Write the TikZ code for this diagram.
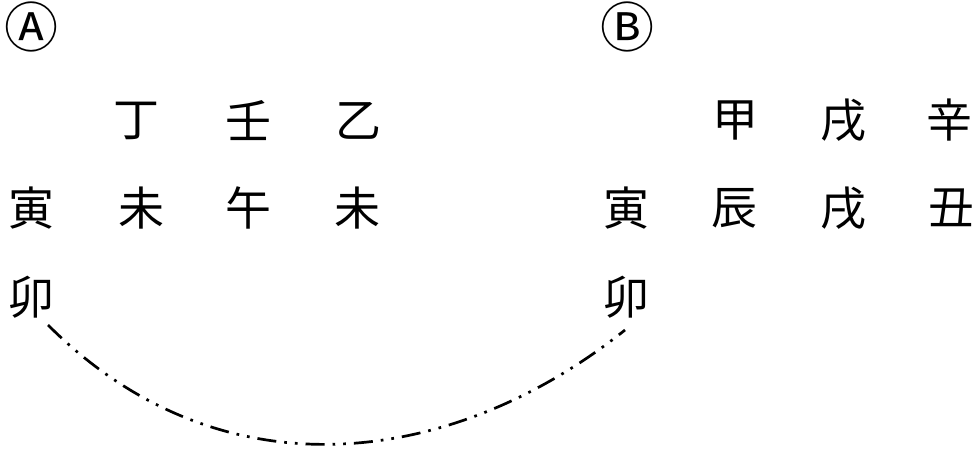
\documentclass[tikz,border=0pt]{standalone}
\usepackage{fontspec}
\newfontfamily\cjk{Noto Sans CJK JP}
\usetikzlibrary{calc}
\tikzset{
  ch/.style={inner sep=0pt, anchor=center, font=\cjk\fontsize{46}{50}\selectfont},
  lbl/.style={inner sep=0pt, anchor=center, font=\cjk\fontsize{54}{58}\selectfont},
  link/.style={line width=2.7pt, dash pattern=on 19pt off 8pt on 2.7pt off 8pt on 2.7pt off 8pt}
}
\begin{document}
\begin{tikzpicture}[x=1pt,y=-1pt]
\useasboundingbox (0,0) rectangle (978,450);
% left group
\node[lbl] (A) at (32,27) {Ⓐ};
\node[ch] (la1) at (136,121) {丁};
\node[ch] (la2) at (248,121) {壬};
\node[ch] (la3) at (358,121) {乙};
\node[ch] (lb0) at (32,208) {寅};
\node[ch] (lb1) at (141,208) {未};
\node[ch] (lb2) at (248,208) {午};
\node[ch] (lb3) at (357,208) {未};
\node[ch] (lc0) at (32,297) {卯};
% right group
\node[lbl] (B) at (627,27) {Ⓑ};
\node[ch] (ra1) at (735,120) {甲};
\node[ch] (ra2) at (843,120) {戌};
\node[ch] (ra3) at (949,120) {辛};
\node[ch] (rb0) at (626,208) {寅};
\node[ch] (rb1) at (734,208) {辰};
\node[ch] (rb2) at (843,208) {戌};
\node[ch] (rb3) at (951,208) {丑};
\node[ch] (rc0) at (626,297) {卯};
% connector
\draw[link] ($(lc0.center)+(16,28)$) .. controls ($(lc0.center)+(191,203)$) and ($(rc0.center)+(-171,169)$) .. ($(rc0.center)+(-1,33)$);
\end{tikzpicture}
\end{document}
